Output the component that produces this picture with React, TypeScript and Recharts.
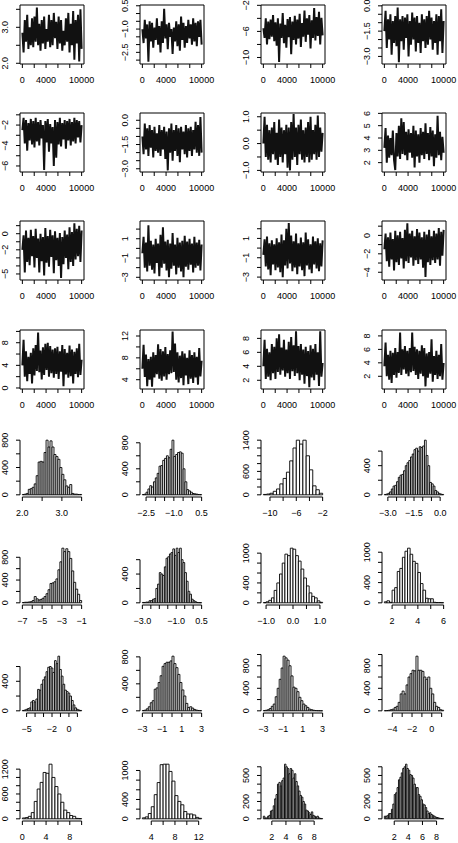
import React from "react";
import {
  LineChart,
  Line,
  ComposedChart,
  XAxis,
  YAxis,
  ReferenceArea,
  ReferenceLine,
} from "recharts";

const FONT = "'Liberation Sans', Arial, Helvetica, sans-serif";

// ---------------- Trace plots (thinned) ----------------
const trace1 = [2.85, 2.3, 3.2, 2.6, 3.35, 2.4, 3.0, 2.5, 3.25, 2.45, 3.3, 2.6, 3.55, 2.5, 3.1, 2.35, 3.2, 2.55, 3.3, 2.4, 2.95, 2.6, 3.35, 2.45, 3.2, 2.5, 3.4, 2.7, 3.15, 2.4, 3.3, 2.55, 3.2, 2.35, 2.9, 2.5, 3.25, 2.6, 3.4, 2.3, 3.1, 2.5, 3.45, 2.1, 3.2, 2.55, 3.35, 2.05, 3.5, 2.4];
const trace2 = [-1.0, -1.9, -0.4, -1.6, -0.7, -3.1, -0.5, -1.8, -0.6, -2.2, -0.9, -1.7, -0.3, -2.0, -0.8, -2.5, -0.5, -1.9, 0.3, -1.6, -0.7, -2.3, -0.6, -1.5, -1.0, -2.6, -0.9, -1.8, -0.5, -2.1, -0.7, -2.4, -0.2, -1.7, -0.6, -2.2, -0.8, -1.9, -0.4, -1.6, -0.7, -2.0, -0.3, -1.8, -0.6, -2.1, -0.5, -1.5, -0.4, -2.0];
const trace3 = [-5.5, -7.0, -4.0, -8.0, -4.5, -7.2, -4.2, -6.8, -3.5, -7.5, -4.6, -8.2, -4.0, -10.7, -4.8, -7.0, -3.2, -7.8, -5.0, -8.5, -4.1, -6.9, -3.8, -9.5, -4.5, -7.3, -3.6, -8.0, -4.2, -7.1, -3.3, -8.4, -4.7, -6.8, -2.8, -7.6, -4.0, -6.5, -3.5, -8.6, -4.3, -7.0, -2.4, -7.4, -3.8, -6.7, -3.0, -8.0, -3.9, -6.6];
const trace4 = [-1.5, -0.3, -2.5, -0.8, -2.0, -0.5, -2.9, -0.9, -2.2, -0.6, -2.4, -0.1, -3.35, -0.8, -2.1, -0.6, -2.6, -0.7, -1.9, -0.5, -3.0, -0.9, -2.3, -0.4, -2.0, -0.7, -2.7, -0.6, -2.2, -1.0, -2.8, -0.5, -2.1, -0.8, -2.5, -0.6, -2.3, -0.3, -2.0, -0.7, -2.6, -0.9, -2.2, -0.5, -2.9, -0.6, -2.1, -0.2, -2.8, -0.9];
const trace5 = [-2.5, -1.3, -3.8, -1.5, -4.5, -1.8, -3.5, -1.4, -3.9, -1.6, -4.2, -1.3, -3.6, -1.7, -4.0, -1.5, -3.3, -2.0, -6.4, -1.6, -3.7, -1.4, -4.6, -1.9, -3.8, -2.2, -6.0, -1.5, -5.2, -1.7, -3.9, -1.3, -4.1, -1.8, -3.4, -1.5, -4.3, -1.6, -3.5, -1.4, -4.0, -1.7, -3.6, -1.3, -3.8, -1.5, -3.2, -1.6, -3.7, -2.0];
const trace6 = [-1.0, -2.1, -0.2, -1.8, -0.5, -2.2, -0.3, -1.7, -0.6, -2.3, -0.4, -1.9, -0.8, -2.0, -0.3, -2.2, -0.6, -1.8, -0.4, -2.4, -0.7, -3.1, -0.5, -2.0, -0.2, -2.5, -0.6, -1.9, -0.3, -2.2, -0.5, -2.6, -0.4, -1.8, -0.7, -2.1, -0.3, -2.3, -0.5, -1.9, -0.4, -2.2, -0.6, -1.8, -0.1, -2.0, -0.3, -2.2, 0.2, -2.0];
const trace7 = [0.0, 1.0, -0.5, 0.7, -0.6, 0.5, -0.7, 0.6, -0.4, 0.8, -0.6, 0.4, -0.8, 0.9, -0.5, 0.6, -0.7, 0.5, -0.4, 0.7, -0.9, 0.6, -1.0, 0.8, -0.6, 1.1, -0.5, 0.6, -0.8, 0.7, -0.4, 0.9, -0.6, 0.5, -0.7, 0.6, -0.5, 0.8, -0.7, 1.0, -0.6, 0.5, -0.4, 0.7, -0.6, 1.05, -0.5, 0.6, -0.3, 0.4];
const trace8 = [3.2, 4.8, 2.0, 4.2, 2.4, 4.0, 2.6, 4.6, 2.2, 1.4, 4.4, 2.5, 5.0, 2.3, 5.6, 2.7, 5.3, 2.6, 4.5, 2.2, 4.7, 2.8, 4.4, 2.4, 5.0, 1.6, 4.6, 2.5, 4.3, 2.0, 4.8, 2.6, 4.5, 2.3, 5.2, 2.7, 4.4, 2.2, 4.9, 2.5, 4.6, 1.7, 4.3, 2.4, 5.8, 2.6, 4.5, 2.2, 4.1, 2.8];
const trace9 = [-2.0, -0.2, -4.8, 0.4, -3.5, -0.5, -3.9, 0.5, -2.8, -0.3, -4.2, 0.6, -3.0, -0.6, -4.8, 0.0, -3.4, -0.4, -5.2, 0.7, -3.6, -0.3, -4.1, 0.5, -2.9, -0.2, -4.9, 0.3, -3.3, -0.5, -4.0, 0.1, -5.5, -0.4, -3.8, 0.4, -3.0, -0.1, -4.4, 0.8, -3.5, 0.2, -4.0, 1.3, -3.2, 0.6, -2.8, 1.0, -3.5, 0.4];
const trace10 = [-0.5, 1.2, -2.0, 0.6, -2.4, 2.4, -1.8, 0.8, -2.2, 0.4, -2.6, 1.0, -1.5, 0.5, -2.9, 1.4, -2.0, 2.2, -1.6, 0.7, -2.3, 0.9, -3.0, 0.5, -2.1, 1.6, -1.8, 0.4, -2.7, 1.1, -2.0, 0.6, -2.4, 0.8, -3.0, 1.3, -1.9, 0.7, -2.2, 1.0, -1.7, 0.5, -2.5, 1.2, -2.0, 0.6, -1.8, 0.9, -2.3, 0.4];
const trace11 = [-0.7, 0.9, -1.9, 1.2, -2.2, 0.5, -2.8, 0.8, -1.7, 0.4, -2.3, 1.0, -2.0, 0.6, -2.5, 1.4, -3.0, 0.8, -1.8, 2.0, -2.1, 2.6, -1.6, 1.3, -2.4, 0.7, -2.0, 1.5, -2.7, 0.5, -1.9, 1.1, -2.3, 0.6, -2.9, 1.6, -1.8, 0.9, -2.2, 0.4, -2.6, 1.2, -1.7, 0.7, -2.1, 1.0, -2.4, 0.5, -1.9, 0.8];
const trace12 = [-1.5, 0.2, -2.8, -0.2, -3.4, 0.3, -2.6, -0.4, -3.8, 0.5, -2.9, 0.0, -3.2, 0.4, -2.5, -0.3, -3.6, 0.6, -2.8, 1.3, -3.0, 0.2, -2.4, 0.5, -3.3, -0.1, -2.7, 0.7, -3.1, 0.3, -2.6, -0.2, -3.5, 0.4, -4.5, 0.1, -2.9, 0.6, -3.2, -0.1, -2.7, 0.5, -3.0, 0.2, -2.6, 0.8, -3.3, 0.4, -2.2, 0.6];
const trace13 = [4.0, 8.5, 2.0, 6.5, 1.2, 5.5, 2.5, 6.2, 0.8, 7.0, 2.2, 7.6, 3.0, 9.8, 2.8, 6.6, 1.5, 7.2, 2.3, 7.8, 3.2, 8.0, 2.0, 7.4, 2.6, 6.8, 1.8, 7.0, 2.5, 7.3, 1.6, 6.5, 2.9, 7.6, 0.3, 6.9, 2.4, 6.2, 1.8, 7.5, 2.1, 6.8, 0.8, 6.4, 2.5, 7.0, 1.9, 7.8, 2.3, 5.0];
const trace14 = [6.0, 10.4, 4.5, 8.6, 2.8, 7.8, 4.0, 8.2, 2.7, 9.0, 4.4, 8.5, 5.0, 10.5, 4.2, 9.6, 3.8, 9.2, 4.6, 10.0, 4.0, 8.7, 5.0, 9.4, 5.2, 12.8, 5.4, 10.6, 4.0, 9.0, 3.5, 8.4, 4.3, 9.2, 3.0, 8.8, 4.8, 8.0, 3.2, 9.4, 4.2, 8.5, 3.4, 9.0, 4.4, 8.2, 3.1, 9.8, 4.6, 7.5];
const trace15 = [4.0, 7.8, 2.2, 6.5, 2.5, 6.0, 2.0, 7.2, 3.0, 6.8, 2.2, 8.0, 3.2, 8.6, 2.8, 6.7, 3.4, 7.8, 2.5, 6.4, 3.0, 7.5, 2.2, 8.2, 3.3, 7.0, 2.6, 9.0, 3.0, 6.9, 2.0, 7.2, 2.8, 6.4, 1.5, 6.8, 2.6, 6.2, 1.0, 7.0, 2.4, 6.5, 2.0, 7.2, 2.8, 6.0, 1.2, 9.0, 2.5, 4.5];
const trace16 = [3.5, 7.0, 2.0, 5.2, 1.5, 5.8, 1.0, 5.5, 2.2, 6.2, 1.8, 5.6, 2.5, 8.5, 2.2, 6.0, 3.0, 6.5, 2.4, 5.8, 2.0, 6.2, 2.6, 8.5, 2.8, 6.4, 2.2, 6.0, 1.6, 5.8, 2.4, 6.6, 2.0, 6.2, 0.5, 5.4, 1.8, 5.6, 2.4, 7.5, 1.2, 5.0, 2.2, 5.8, 1.6, 5.2, 2.0, 6.8, 1.5, 4.0];

const traces = [trace1, trace2, trace3, trace4, trace5, trace6, trace7, trace8, trace9, trace10, trace11, trace12, trace13, trace14, trace15, trace16];

const traceYRange = [
  [1.98, 3.62], [-3.25, 0.55], [-11.0, -1.95], [-3.45, 0.05],
  [-6.59, -0.82], [-3.2, 0.45], [-1.06, 1.14], [1.24, 6.03],
  [-5.75, 1.58], [-3.28, 2.84], [-3.3, 2.8], [-4.84, 1.56],
  [-0.18, 10.25], [2.3, 13.1], [0.75, 9.2], [0.11, 8.88],
];
const traceYTicks = [
  [2.0, 2.5, 3.0, 3.5], [-3.0, -2.5, -2.0, -1.5, -1.0, -0.5, 0.0, 0.5], [-10, -8, -6, -4, -2], [-3.0, -2.5, -2.0, -1.5, -1.0, -0.5, 0.0],
  [-6, -5, -4, -3, -2, -1], [-3.0, -2.5, -2.0, -1.5, -1.0, -0.5, 0.0], [-1.0, -0.5, 0.0, 0.5, 1.0], [2, 3, 4, 5, 6],
  [-5, -4, -3, -2, -1, 0, 1], [-3, -2, -1, 0, 1, 2], [-3, -2, -1, 0, 1, 2], [-4, -3, -2, -1, 0, 1],
  [0, 2, 4, 6, 8, 10], [4, 6, 8, 10, 12], [2, 4, 6, 8], [2, 4, 6, 8],
];
const traceYLabels = [
  ["2.0", "", "3.0", ""], ["", "-2.5", "", "", "-1.0", "", "", "0.5"], ["-10", "", "-6", "", "-2"], ["-3.0", "", "", "-1.5", "", "", "0.0"],
  ["-6", "", "-4", "", "-2", ""], ["-3.0", "", "", "-1.5", "", "", "0.0"], ["-1.0", "", "0.0", "", "1.0"], ["2", "3", "4", "5", "6"],
  ["-5", "", "", "-2", "", "0", ""], ["-3", "", "-1", "", "1", ""], ["-3", "", "-1", "", "1", ""], ["-4", "", "-2", "", "0", ""],
  ["0", "", "4", "", "8", ""], ["4", "", "8", "", "12"], ["2", "4", "6", "8"], ["2", "4", "6", "8"],
];
const iterTicks = [0, 2000, 4000, 6000, 8000, 10000];
const iterLabels = ["0", "", "4000", "", "", "10000"];
const iterRange = [-400, 10400];

// ---------------- Histograms (bin counts) ----------------
const hist1 = [5, 10, 20, 80, 90, 110, 160, 280, 480, 490, 480, 620, 800, 700, 790, 700, 590, 560, 520, 400, 300, 220, 130, 110, 150, 20, 10, 10, 5, 5];
const hist2 = [5, 10, 40, 90, 140, 120, 200, 260, 330, 440, 450, 530, 560, 600, 570, 700, 840, 590, 620, 650, 660, 640, 400, 200, 80, 60, 40, 20, 15, 10, 5, 3];
const hist3 = [10, 20, 40, 90, 150, 280, 420, 580, 870, 1200, 1400, 1300, 1400, 1000, 640, 230, 130, 40];
const hist4 = [5, 10, 20, 40, 80, 120, 130, 180, 240, 270, 280, 330, 400, 440, 470, 520, 560, 620, 640, 600, 660, 650, 670, 750, 540, 400, 170, 150, 120, 60, 40, 20, 10, 5];
const hist5 = [5, 10, 10, 15, 20, 40, 110, 70, 50, 60, 80, 110, 160, 230, 340, 350, 370, 420, 580, 720, 960, 900, 950, 900, 780, 560, 360, 240, 150, 40];
const hist6 = [5, 5, 10, 10, 30, 30, 50, 60, 200, 260, 420, 400, 380, 500, 620, 640, 680, 700, 750, 660, 760, 700, 760, 600, 560, 420, 300, 160, 120, 50, 30, 15, 5, 3, 2];
const hist7 = [5, 20, 50, 100, 250, 400, 580, 800, 980, 950, 1100, 1080, 950, 840, 680, 500, 340, 200, 130, 100, 40, 10];
const hist8 = [20, 40, 10, 250, 300, 620, 680, 900, 1020, 1080, 960, 820, 780, 600, 380, 250, 90, 80, 80, 10, 5, 5, 3];
const hist9 = [5, 10, 20, 30, 40, 120, 140, 120, 160, 290, 280, 360, 420, 460, 530, 590, 600, 580, 520, 680, 640, 740, 560, 470, 360, 280, 260, 240, 200, 140, 80, 40, 20, 10, 5];
const hist10 = [5, 10, 30, 60, 120, 150, 320, 340, 420, 520, 660, 700, 720, 720, 740, 810, 700, 640, 540, 420, 310, 220, 110, 50, 60, 40, 20, 10, 5, 3];
const hist11 = [5, 10, 20, 40, 80, 120, 250, 400, 560, 760, 970, 940, 900, 800, 620, 420, 400, 340, 240, 180, 120, 90, 60, 30, 20, 10, 5, 3, 2, 1];
const hist12 = [3, 5, 10, 20, 30, 60, 80, 150, 300, 350, 300, 460, 600, 660, 720, 710, 970, 720, 720, 700, 600, 560, 600, 400, 300, 150, 80, 60, 20, 10];
const hist13 = [20, 30, 60, 150, 420, 720, 880, 1120, 1100, 1320, 1000, 780, 600, 400, 210, 150, 80, 60, 10, 5];
const hist14 = [20, 40, 110, 250, 500, 750, 1120, 1130, 1130, 980, 780, 480, 360, 290, 150, 100, 100, 80, 30, 10];
const hist15 = [30, 10, 10, 30, 40, 90, 100, 150, 230, 280, 400, 420, 380, 440, 470, 630, 600, 580, 520, 580, 560, 470, 520, 430, 380, 320, 270, 250, 200, 170, 100, 90, 70, 50, 80, 40, 30, 20, 30, 10, 5, 3];
const hist16 = [30, 30, 40, 60, 60, 110, 170, 280, 300, 360, 450, 480, 530, 580, 600, 630, 580, 560, 510, 500, 470, 400, 360, 360, 280, 260, 220, 170, 160, 130, 90, 60, 70, 50, 40, 30, 20, 15, 10, 5, 3, 2];

const hists = [hist1, hist2, hist3, hist4, hist5, hist6, hist7, hist8, hist9, hist10, hist11, hist12, hist13, hist14, hist15, hist16];
const histStart = [2.0, -2.7, -11, -3.2, -7, -3.0, -1.1, 1.4, -5.5, -3, -3, -4.8, 0, 2.5, 0.8, 0.6];
const histWidth = [0.05, 0.1, 0.5, 0.1, 0.2, 0.1, 0.1, 0.2, 0.2, 0.2, 0.2, 0.2, 0.5, 0.5, 0.2, 0.2];

const histXTicks = [
  [2.0, 2.5, 3.0, 3.5], [-2.5, -2.0, -1.5, -1.0, -0.5, 0.0, 0.5], [-10, -8, -6, -4, -2], [-3.0, -2.5, -2.0, -1.5, -1.0, -0.5, 0.0],
  [-7, -6, -5, -4, -3, -2, -1], [-3.0, -2.5, -2.0, -1.5, -1.0, -0.5, 0.0, 0.5], [-1.0, -0.5, 0.0, 0.5, 1.0], [2, 3, 4, 5, 6],
  [-5, -4, -3, -2, -1, 0, 1], [-3, -2, -1, 0, 1, 2, 3], [-3, -2, -1, 0, 1, 2, 3], [-4, -3, -2, -1, 0, 1],
  [0, 2, 4, 6, 8, 10], [4, 6, 8, 10, 12], [2, 4, 6, 8], [2, 4, 6, 8],
];
const histXLabels = [
  ["2.0", "", "3.0", ""], ["-2.5", "", "", "-1.0", "", "", "0.5"], ["-10", "", "-6", "", "-2"], ["-3.0", "", "", "-1.5", "", "", "0.0"],
  ["-7", "", "-5", "", "-3", "", "-1"], ["-3.0", "", "", "", "-1.0", "", "", "0.5"], ["-1.0", "", "0.0", "", "1.0"], ["2", "", "4", "", "6"],
  ["-5", "", "", "-2", "", "0", ""], ["-3", "", "-1", "", "1", "", "3"], ["-3", "", "-1", "", "1", "", "3"], ["-4", "", "-2", "", "0", ""],
  ["0", "", "4", "", "8", ""], ["4", "", "8", "", "12"], ["2", "4", "6", "8"], ["2", "4", "6", "8"],
];
const histYTicks = [
  [0, 200, 400, 600, 800], [0, 200, 400, 600, 800], [0, 200, 400, 600, 800, 1000, 1200, 1400], [0, 200, 400, 600],
  [0, 200, 400, 600, 800], [0, 200, 400, 600], [0, 200, 400, 600, 800, 1000], [0, 200, 400, 600, 800, 1000],
  [0, 200, 400, 600], [0, 200, 400, 600, 800], [0, 200, 400, 600, 800, 1000], [0, 200, 400, 600, 800, 1000],
  [0, 200, 400, 600, 800, 1000, 1200], [0, 200, 400, 600, 800, 1000], [0, 100, 200, 300, 400, 500, 600], [0, 100, 200, 300, 400, 500, 600],
];
const histYLabels = [
  ["0", "", "400", "", "800"], ["0", "", "400", "", "800"], ["0", "", "", "600", "", "", "", "1400"], ["0", "", "400", ""],
  ["0", "", "400", "", "800"], ["0", "", "400", ""], ["0", "", "400", "", "", "1000"], ["0", "", "400", "", "", "1000"],
  ["0", "", "400", ""], ["0", "", "400", "", "800"], ["0", "", "400", "", "800", ""], ["0", "", "400", "", "800", ""],
  ["0", "", "", "600", "", "", "1200"], ["0", "", "400", "", "", "1000"], ["0", "", "200", "", "", "500", ""], ["0", "", "200", "", "", "500", ""],
];

// ---------------- Layout ----------------
const TOP_PAD = 12;
const PLOT_TOP0 = 5;
const PLOT_H = 59;
const XAXIS_H = 44;
const PANEL_W = 121;
const PANEL_H = TOP_PAD + PLOT_H + XAXIS_H;
const COL_X = [0, 120, 241, 362];
const ROW_PITCH = 108.2;
const MARGIN = { top: TOP_PAD, right: 37, bottom: 0, left: 0 };
const FS = 9;

const panelTop = (row: number) => PLOT_TOP0 + row * ROW_PITCH - TOP_PAD;

const fmt = (s: string) => s.replace("-", "\u2212");
const labelFor = (ticks: number[], labels: string[], v: number) => {
  const i = ticks.findIndex((t) => Math.abs(t - v) < 1e-9);
  return i >= 0 ? fmt(labels[i]) : "";
};

const YTickLabel = (props: any) => {
  const { x, y, text } = props;
  const bx = x + 3.2;
  return (
    <text
      x={bx}
      y={y}
      transform={`rotate(-90 ${bx} ${y})`}
      textAnchor="middle"
      fontSize={FS}
      fontFamily={FONT}
      fill="#000"
    >
      {text}
    </text>
  );
};

const xTickStyle = { fill: "#000", fontSize: FS, fontFamily: FONT };

function TracePanel({ idx }: { idx: number }) {
  const values = traces[idx];
  const data = values.map((v, i) => ({ iter: (i * 10000) / (values.length - 1), v }));
  const [lo, hi] = traceYRange[idx];
  const yt = traceYTicks[idx];
  const yl = traceYLabels[idx];
  const row = Math.floor(idx / 4);
  const col = idx % 4;
  return (
    <div style={{ position: "absolute", left: COL_X[col], top: panelTop(row) }}>
      <LineChart width={PANEL_W} height={PANEL_H} data={data} margin={MARGIN}>
        <XAxis
          dataKey="iter"
          type="number"
          domain={iterRange}
          allowDataOverflow
          ticks={iterTicks}
          interval={0}
          height={XAXIS_H}
          tickSize={4}
          tickMargin={9}
          axisLine={false}
          stroke="#000"
          tickLine={{ stroke: "#000" }}
          tick={xTickStyle}
          tickFormatter={(v: number) => labelFor(iterTicks, iterLabels, v)}
        />
        <YAxis
          type="number"
          domain={[lo, hi]}
          allowDataOverflow
          ticks={yt}
          interval={0}
          width={20}
          tickSize={4}
          tickMargin={11}
          axisLine={false}
          stroke="#000"
          tickLine={{ stroke: "#000" }}
          tick={(p: any) => <YTickLabel {...p} text={labelFor(yt, yl, p.payload.value)} />}
        />
        <Line
          dataKey="v"
          type="linear"
          stroke="#111"
          strokeWidth={2}
          strokeLinejoin="miter"
          dot={false}
          isAnimationActive={false}
        />
        <ReferenceArea
          x1={iterRange[0]}
          x2={iterRange[1]}
          y1={lo}
          y2={hi}
          fill="none"
          stroke="#000"
          strokeWidth={1}
          ifOverflow="visible"
        />
      </LineChart>
    </div>
  );
}

function HistPanel({ idx }: { idx: number }) {
  const counts = hists[idx];
  const start = histStart[idx];
  const w = histWidth[idx];
  const bins = counts.map((c, i) => ({ x0: start + i * w, x1: start + (i + 1) * w, c }));
  const b0 = start;
  const bn = start + counts.length * w;
  const R = bn - b0;
  const xDom = [b0 - 0.04 * R, bn + 0.04 * R];
  const ymax = Math.max(...counts);
  const yDom = [-0.04 * ymax, 1.04 * ymax];
  const xt = histXTicks[idx];
  const xl = histXLabels[idx];
  const yt = histYTicks[idx];
  const yl = histYLabels[idx];
  const row = 4 + Math.floor(idx / 4);
  const col = idx % 4;
  return (
    <div style={{ position: "absolute", left: COL_X[col], top: panelTop(row) }}>
      <ComposedChart width={PANEL_W} height={PANEL_H} data={bins} margin={MARGIN}>
        <XAxis
          dataKey="x0"
          type="number"
          domain={xDom}
          allowDataOverflow
          ticks={xt}
          interval={0}
          height={XAXIS_H}
          tickSize={4}
          tickMargin={9}
          axisLine={false}
          stroke="#000"
          tickLine={{ stroke: "#000" }}
          tick={xTickStyle}
          tickFormatter={(v: number) => labelFor(xt, xl, v)}
        />
        <YAxis
          type="number"
          domain={yDom}
          allowDataOverflow
          ticks={yt}
          interval={0}
          width={20}
          tickSize={4}
          tickMargin={11}
          axisLine={false}
          stroke="#000"
          tickLine={{ stroke: "#000" }}
          tick={(p: any) => <YTickLabel {...p} text={labelFor(yt, yl, p.payload.value)} />}
        />
        {bins
          .filter((b) => b.c > 0)
          .map((b, i) => (
            <ReferenceArea
              key={i}
              x1={b.x0}
              x2={b.x1}
              y1={0}
              y2={b.c}
              fill="#fff"
              fillOpacity={1}
              stroke="#000"
              strokeWidth={0.9}
              ifOverflow="visible"
            />
          ))}
        <ReferenceLine
          segment={[
            { x: xt[0], y: yDom[0] },
            { x: xt[xt.length - 1], y: yDom[0] },
          ]}
          stroke="#000"
          strokeWidth={1}
          ifOverflow="visible"
        />
        <ReferenceLine
          segment={[
            { x: xDom[0], y: 0 },
            { x: xDom[0], y: yt[yt.length - 1] },
          ]}
          stroke="#000"
          strokeWidth={1}
          ifOverflow="visible"
        />
      </ComposedChart>
    </div>
  );
}

export default function App() {
  return (
    <div
      style={{
        position: "absolute",
        left: 0,
        top: 0,
        width: 458,
        height: 843,
        background: "#fff",
        overflow: "hidden",
      }}
    >
      {traces.map((_, i) => (
        <TracePanel key={`t${i}`} idx={i} />
      ))}
      {hists.map((_, i) => (
        <HistPanel key={`h${i}`} idx={i} />
      ))}
    </div>
  );
}
